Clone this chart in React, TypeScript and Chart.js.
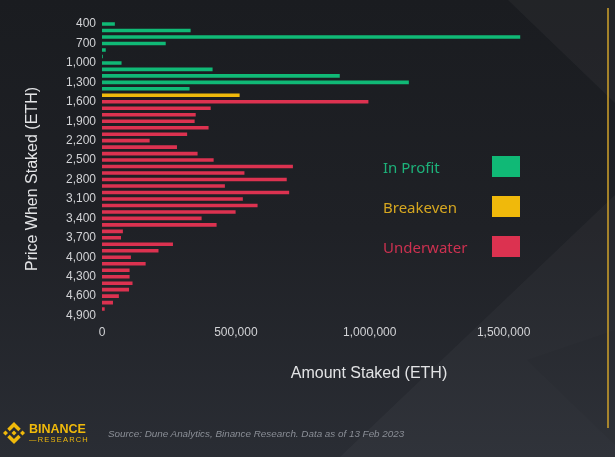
import React, { useEffect, useRef } from "react";
import { Chart, registerables } from "chart.js";

Chart.register(...registerables);

// ---- Data ----
const priceCategories: number[] = [
  400, 500, 600, 700, 800, 900, 1000, 1100, 1200, 1300, 1400, 1500, 1600, 1700,
  1800, 1900, 2000, 2100, 2200, 2300, 2400, 2500, 2600, 2700, 2800, 2900, 3000,
  3100, 3200, 3300, 3400, 3500, 3600, 3700, 3800, 3900, 4000, 4100, 4200, 4300,
  4400, 4500, 4600, 4700, 4800, 4900,
];

// 400 – 1,400
const inProfitValues: number[] = [
  48000, 331000, 1562000, 238000, 14000, 3000, 73000, 413000, 888000, 1146000, 327000,
];

// 1,500
const breakevenValues: number[] = [514000];

// 1,600 – 4,900
const underwaterValues: number[] = [
  995000, 406000, 350000, 346000, 398000, 318000, 178000, 280000, 357000, 417000,
  713000, 532000, 690000, 459000, 699000, 526000, 581000, 499000, 372000, 428000,
  78000, 71000, 265000, 211000, 108000, 163000, 103000, 103000, 114000, 101000,
  63000, 41000, 10000, 0,
];

const xTickValues: number[] = [0, 500000, 1000000, 1500000];
const xMax = 1600000;

const seriesLabels: string[] = ["In Profit", "Breakeven", "Underwater"];
const seriesColors: string[] = ["#10b976", "#f0b90b", "#dc3250"];
const legendTextColors: string[] = ["#1db27a", "#d6a720", "#cc3150"];

const yAxisTitle = "Price When Staked (ETH)";
const xAxisTitle = "Amount Staked (ETH)";
const sourceText = "Source: Dune Analytics, Binance Research. Data as of 13 Feb 2023";

// ---- Helpers ----
const fmt = (v: number) => v.toLocaleString("en-US");

function padSeries(values: number[], offset: number): (number | null)[] {
  return priceCategories.map((_, i) =>
    i >= offset && i < offset + values.length ? values[i - offset] : null
  );
}

const bgPlugin = {
  id: "bgPlugin",
  beforeDraw(chart: any) {
    const { ctx, width, height } = chart;
    ctx.save();
    const g = ctx.createLinearGradient(0, 0, 0, height);
    g.addColorStop(0, "#1a1c20");
    g.addColorStop(0.5, "#1f2126");
    g.addColorStop(1, "#2a2d34");
    ctx.fillStyle = g;
    ctx.fillRect(0, 0, width, height);

    // top-right lighter triangle
    ctx.fillStyle = "rgba(255,255,255,0.035)";
    ctx.beginPath();
    ctx.moveTo(508, 0);
    ctx.lineTo(width, 0);
    ctx.lineTo(width, 103);
    ctx.closePath();
    ctx.fill();

    // lower-right lighter area
    ctx.fillStyle = "rgba(255,255,255,0.03)";
    ctx.beginPath();
    ctx.moveTo(340, height);
    ctx.lineTo(width, 195);
    ctx.lineTo(width, height);
    ctx.closePath();
    ctx.fill();

    // subtle darker facet
    ctx.fillStyle = "rgba(0,0,0,0.035)";
    ctx.beginPath();
    ctx.moveTo(527, 360);
    ctx.lineTo(width, 445);
    ctx.lineTo(width, 330);
    ctx.closePath();
    ctx.fill();

    // yellow vertical line
    ctx.strokeStyle = "#cfa22b";
    ctx.lineWidth = 1.5;
    ctx.beginPath();
    ctx.moveTo(608, 8);
    ctx.lineTo(608, 428);
    ctx.stroke();
    ctx.restore();
  },
};

function BinanceLogo() {
  return (
    <svg width="22" height="22" viewBox="0 0 126.61 126.61" style={{ display: "block" }}>
      <g fill="#f0b90b">
        <path d="M38.73 53.2l24.59-24.58 24.6 24.6 14.3-14.31L63.32 0 24.42 38.9z" />
        <path d="M0 63.31l14.3-14.31 14.31 14.31-14.31 14.3z" />
        <path d="M38.73 73.41l24.59 24.59 24.6-24.6 14.31 14.29-38.9 38.91-38.93-38.9z" />
        <path d="M98.28 63.31l14.3-14.31 14.31 14.3-14.31 14.32z" />
        <path d="M77.83 63.3L63.32 48.78 48.81 63.3l14.51 14.52z" />
      </g>
    </svg>
  );
}

export default function App() {
  const canvasRef = useRef<HTMLCanvasElement | null>(null);

  useEffect(() => {
    if (!canvasRef.current) return;
    const profitOffset = 0;
    const breakevenOffset = inProfitValues.length;
    const underwaterOffset = inProfitValues.length + breakevenValues.length;
    const seriesData = [
      padSeries(inProfitValues, profitOffset),
      padSeries(breakevenValues, breakevenOffset),
      padSeries(underwaterValues, underwaterOffset),
    ];

    const chart = new Chart(canvasRef.current, {
      type: "bar",
      data: {
        labels: priceCategories.map(fmt),
        datasets: seriesLabels.map((label, k) => ({
          label,
          data: seriesData[k],
          backgroundColor: seriesColors[k],
          borderWidth: 0,
          barPercentage: 0.55,
          categoryPercentage: 1,
        })),
      },
      options: {
        indexAxis: "y",
        animation: false,
        responsive: true,
        maintainAspectRatio: false,
        layout: { padding: { top: 20.8, right: 84.6, bottom: 0, left: 0 } },
        plugins: {
          legend: { display: false },
          tooltip: { enabled: false },
          title: { display: false },
        },
        scales: {
          x: {
            type: "linear",
            min: 0,
            max: xMax,
            stacked: true,
            grid: { display: false, drawTicks: false },
            border: { display: false },
            afterBuildTicks: (scale: any) => {
              scale.ticks = xTickValues.map((v) => ({ value: v }));
            },
            afterFit: (scale: any) => {
              scale.height = 457 - 318.8;
            },
            ticks: {
              padding: 7,
              color: "#d2d3d6",
              font: { family: "Liberation Sans, Arial, sans-serif", size: 12 },
              callback: (v: any) => fmt(Number(v)),
            },
          },
          y: {
            type: "category",
            stacked: true,
            grid: { display: false, drawTicks: false },
            border: { display: false },
            afterFit: (scale: any) => {
              scale.width = 102;
            },
            ticks: {
              autoSkip: false,
              padding: 6,
              color: "#d2d3d6",
              font: { family: "Liberation Sans, Arial, sans-serif", size: 12 },
              callback: (_v: any, i: number) => (i % 3 === 0 ? fmt(priceCategories[i]) : ""),
            },
          },
        },
      },
      plugins: [bgPlugin],
    } as any);

    return () => chart.destroy();
  }, []);

  const sans = "Liberation Sans, Arial, sans-serif";

  return (
    <div
      style={{
        position: "fixed",
        left: 0,
        top: 0,
        width: 615,
        height: 457,
        overflow: "hidden",
        background: "#1f2126",
      }}
    >
      <canvas ref={canvasRef} style={{ position: "absolute", left: 0, top: 0 }} />

      {/* Y axis title */}
      <div
        style={{
          position: "absolute",
          left: 32,
          top: 179,
          transform: "translate(-50%, -50%) rotate(-90deg)",
          whiteSpace: "nowrap",
          color: "#e2e3e5",
          fontFamily: sans,
          fontSize: 16,
        }}
      >
        {yAxisTitle}
      </div>

      {/* X axis title */}
      <div
        style={{
          position: "absolute",
          left: 369,
          top: 373,
          transform: "translate(-50%, -50%)",
          whiteSpace: "nowrap",
          color: "#e2e3e5",
          fontFamily: sans,
          fontSize: 16,
        }}
      >
        {xAxisTitle}
      </div>

      {/* Legend */}
      {seriesLabels.map((label, k) => (
        <React.Fragment key={label}>
          <div
            style={{
              position: "absolute",
              left: 383,
              top: 167 + k * 40,
              transform: "translateY(-50%)",
              whiteSpace: "nowrap",
              color: legendTextColors[k],
              fontFamily: "Noto Sans, sans-serif",
              fontSize: 15,
            }}
          >
            {label}
          </div>
          <div
            style={{
              position: "absolute",
              left: 492,
              top: 156 + k * 40,
              width: 28,
              height: 21,
              background: seriesColors[k],
            }}
          />
        </React.Fragment>
      ))}

      {/* Footer */}
      <div style={{ position: "absolute", left: 3, top: 422 }}>
        <BinanceLogo />
      </div>
      <div
        style={{
          position: "absolute",
          left: 29,
          top: 423,
          color: "#f0b90b",
          fontFamily: sans,
          fontWeight: 700,
          fontSize: 12.5,
          lineHeight: "13px",
          whiteSpace: "nowrap",
        }}
      >
        BINANCE
      </div>
      <div
        style={{
          position: "absolute",
          left: 29,
          top: 436,
          color: "#f0b90b",
          fontFamily: sans,
          fontSize: 7.5,
          lineHeight: "8px",
          letterSpacing: 1.2,
          whiteSpace: "nowrap",
        }}
      >
        —RESEARCH
      </div>
      <div
        style={{
          position: "absolute",
          left: 108,
          top: 433,
          transform: "translateY(-50%)",
          color: "#8a8e96",
          fontFamily: sans,
          fontStyle: "italic",
          fontSize: 9.85,
          whiteSpace: "nowrap",
        }}
      >
        {sourceText}
      </div>
    </div>
  );
}
